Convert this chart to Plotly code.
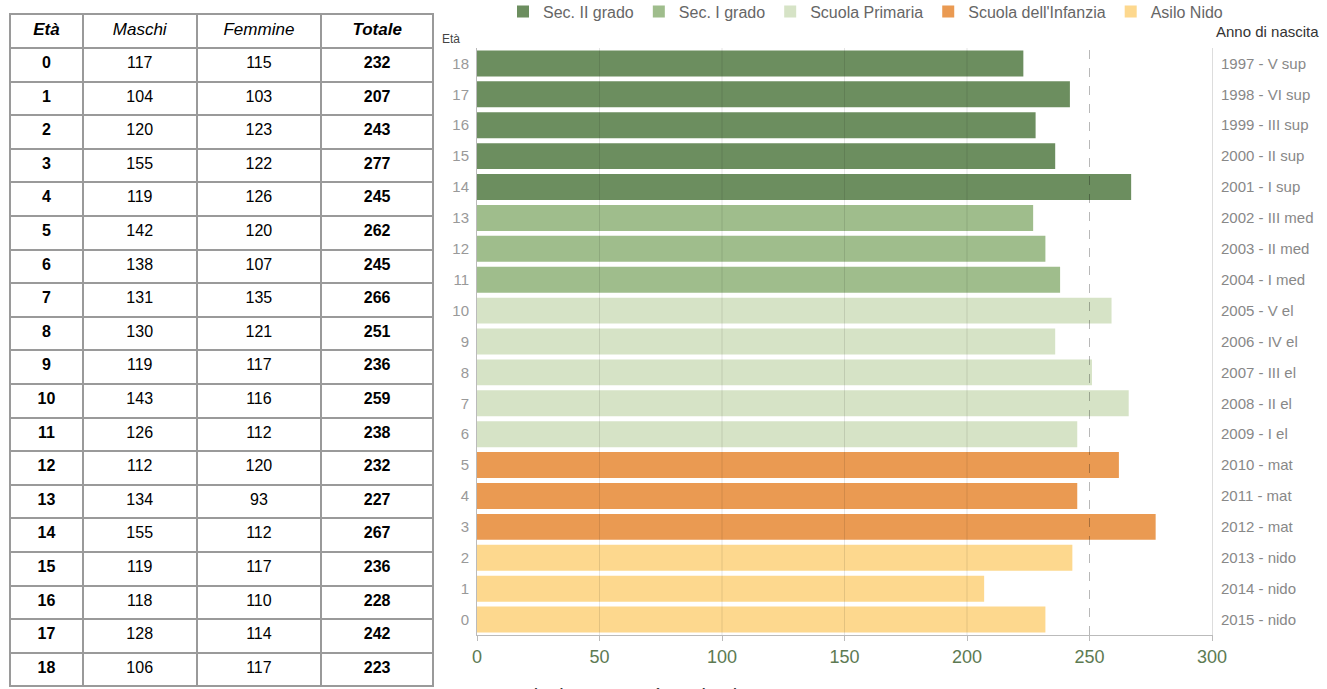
import plotly.graph_objects as go

W, H = 1327, 689

eta = list(range(19))
maschi = [117, 104, 120, 155, 119, 142, 138, 131, 130, 119, 143, 126, 112, 134, 155, 119, 118, 128, 106]
femmine = [115, 103, 123, 122, 126, 120, 107, 135, 121, 117, 116, 112, 120, 93, 112, 117, 110, 114, 117]
totale = [232, 207, 243, 277, 245, 262, 245, 266, 251, 236, 259, 238, 232, 227, 267, 236, 228, 242, 223]

header_labels = ["Età", "Maschi", "Femmine", "Totale"]

anno_labels = ["2015 - nido", "2014 - nido", "2013 - nido", "2012 - mat", "2011 - mat", "2010 - mat",
               "2009 - I el", "2008 - II el", "2007 - III el", "2006 - IV el", "2005 - V el",
               "2004 - I med", "2003 - II med", "2002 - III med", "2001 - I sup", "2000 - II sup",
               "1999 - III sup", "1998 - VI sup", "1997 - V sup"]

groups = ["Sec. II grado", "Sec. I grado", "Scuola Primaria", "Scuola dell'Infanzia", "Asilo Nido"]
group_ages = [list(range(14, 19)), list(range(11, 14)), list(range(6, 11)), list(range(3, 6)), list(range(0, 3))]
group_colors = ["#6c8e5f", "#9fbd8c", "#d6e3c6", "#ea9a52", "#fdd88e"]

x_ticks = [0, 50, 100, 150, 200, 250, 300]

FONT = "Liberation Sans Narrow, Arial Narrow, Liberation Sans, Arial, sans-serif"

fig = go.Figure()

col_weights = ["bold", "normal", "normal", "bold"]

# Table on the left
fig.add_trace(go.Table(
    domain=dict(x=[10 / W, 434 / W], y=[0, 1 - 14 / H]),
    columnwidth=[73, 114, 125, 112],
    header=dict(
        values=header_labels,
        align="center", height=34, fill_color="white",
        line=dict(color="#9a9a9a", width=2),
        font=dict(family=FONT, size=17, color="black", style="italic", weight=col_weights),
    ),
    cells=dict(
        values=[eta, maschi, femmine, totale],
        align="center", height=33.6, fill_color="white",
        line=dict(color="#9a9a9a", width=2),
        font=dict(family=FONT, size=16, color="black", weight=col_weights),
    ),
))

for name, ages, col in zip(groups, group_ages, group_colors):
    fig.add_trace(go.Bar(
        x=[totale[a] for a in ages], y=ages, orientation="h", name=name,
        marker=dict(color=col, line=dict(width=0)),
        xaxis="x", yaxis="y",
    ))

# invisible trace to activate right axis
fig.add_trace(go.Scatter(x=[0] * len(eta), y=eta, mode="markers", marker=dict(opacity=0),
                         showlegend=False, hoverinfo="skip", xaxis="x", yaxis="y2"))

# grid lines on top of bars
for xv in x_ticks[1:-1]:
    fig.add_shape(type="line", xref="x", yref="y domain", x0=xv, x1=xv, y0=0, y1=1,
                  line=dict(color="rgba(0,0,0,0.10)" if xv != 250 else "rgba(0,0,0,0.28)",
                            width=1, dash="solid" if xv != 250 else "dash"),
                  layer="above")

xdom = [477 / W, 1212 / W]
ydom = [1 - 635 / H, 1 - 48 / H]

fig.update_layout(
    width=W, height=H,
    margin=dict(l=0, r=0, t=0, b=0, autoexpand=False),
    paper_bgcolor="white", plot_bgcolor="white",
    barmode="overlay", bargap=0.16,
    font=dict(family=FONT, color="#666"),
    xaxis=dict(domain=xdom, range=[0, 300], tickvals=x_ticks, showgrid=False,
               showline=True, linecolor="#bbb", linewidth=1, ticks="outside", ticklen=5,
               tickcolor="#bbb", tickfont=dict(size=18, color="#5d7a52"), zeroline=False),
    yaxis=dict(domain=ydom, range=[-0.5, 18.5], tickvals=eta, showgrid=False,
               showline=True, linecolor="#bbb", linewidth=1, ticks="", ticklabelstandoff=4,
               tickfont=dict(size=15, color="#999"), zeroline=False),
    yaxis2=dict(domain=ydom, range=[-0.5, 18.5], overlaying="y", side="right", anchor="x",
                tickvals=eta, ticktext=anno_labels, showgrid=False, showline=True,
                linecolor="#ddd", linewidth=1, ticks="", ticklabelstandoff=5,
                tickfont=dict(size=15, color="#888"), zeroline=False),
    legend=dict(orientation="h", x=503 / W, xanchor="left", y=1.008, yanchor="top",
                font=dict(size=16, color="#666"), traceorder="normal",
                bgcolor="rgba(0,0,0,0)", itemwidth=30),
    annotations=[
        dict(text="Età", x=440 / W, y=1 - 39 / H, xref="paper", yref="paper",
             xanchor="left", yanchor="middle", showarrow=False, font=dict(size=12, color="#444")),
        dict(text="Anno di nascita", x=1214 / W, y=1 - 31 / H, xref="paper", yref="paper",
             xanchor="left", yanchor="middle", showarrow=False, font=dict(size=15, color="#333")),
        dict(text="Popolazione per età scolastica - 2016", x=485 / W, y=1 - 683 / H,
             xref="paper", yref="paper", xanchor="left", yanchor="top", showarrow=False,
             font=dict(size=20, color="#333")),
    ],
)

fig.write_html("out.html")
